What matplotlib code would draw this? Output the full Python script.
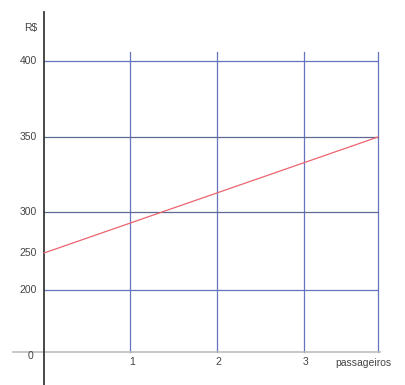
import numpy as np
import matplotlib
matplotlib.use("Agg")
import matplotlib.pyplot as plt

# data
x_ticks = [1, 2, 3]
y_ticks = [200, 250, 300, 350, 400]
y_grid = [200, 300, 350, 400]
x_grid = [1, 2, 3, 4]
line_x = [0, 4]
line_y = [250, 350]
x_label = "passageiros"
y_label = "R$"

W, H = 406, 385
# non-uniform axis layout of the original drawing (data value -> pixel)
xd = np.array([-2.0, 0, 1, 2, 3, 4, 6])
xp = np.array([44 - 172, 44, 130, 217, 304, 378, 526])
yd = np.array([-300.0, 0, 200, 250, 300, 350, 400, 600])
yp = np.array([33 - 93, 33, 95, 132, 173, 248, 324, 628])

fx = lambda v: np.interp(v, xd, xp)
ix = lambda p: np.interp(p, xp, xd)
fy = lambda v: np.interp(v, yd, yp)
iy = lambda p: np.interp(p, yp, yd)

plt.rcParams["font.family"] = ["Liberation Sans", "DejaVu Sans"]
fig = plt.figure(figsize=(W / 100, H / 100), dpi=100)
ax = fig.add_axes([0, 0, 1, 1])
ax.set_xscale("function", functions=(fx, ix))
ax.set_yscale("function", functions=(fy, iy))
ax.set_xlim(ix(0), ix(W))
ax.set_ylim(iy(0), iy(H))
ax.axis("off")

grid_c = "#6674bd"
top = iy(H - 52)
for gx in x_grid:
    ax.plot([gx, gx], [0, top], color=grid_c, lw=0.9, zorder=1)
for gy in y_grid:
    c = "#5d6a94" if gy in (300, 350) else grid_c
    ax.plot([0, 4], [gy, gy], color=c, lw=0.9, zorder=1)

# axes
ax.plot([ix(13), ix(380)], [0, 0], color="#b8b8b8", lw=1.1, zorder=2)
ax.plot([0, 0], [iy(0), iy(H - 12)], color="#3a3a3a", lw=1.3, zorder=3)

# red line
ax.plot(line_x, line_y, color="#ec6470", lw=0.9, zorder=4)

fs = 7.5
tc = "#444444"
for v in y_ticks:
    ax.text(ix(37), v, str(v), ha="right", va="center", fontsize=fs, color=tc)
ax.text(ix(33), iy(H - 356), "0", ha="right", va="center", fontsize=fs, color=tc)
ax.text(ix(37), iy(H - 28), y_label, ha="right", va="center", fontsize=fs, color=tc)
for v in x_ticks:
    ax.text(v + 0.02, iy(H - 362), str(v), ha="center", va="center", fontsize=fs, color=tc)
ax.text(ix(335), iy(H - 363), x_label, ha="left", va="center", fontsize=fs, color=tc)

fig.savefig("out.png", dpi=100)
